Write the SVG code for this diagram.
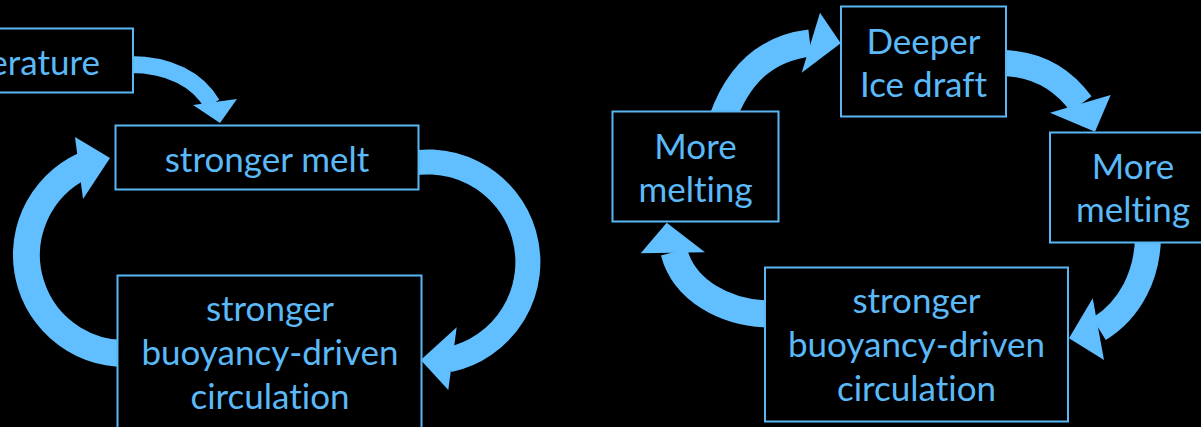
<svg xmlns="http://www.w3.org/2000/svg" width="1201" height="427" viewBox="0 0 1201 427">
<style>
.bg{fill:#000}
.box{fill:#000;stroke:#58B6F2;stroke-width:2}
.lbl{font-family:Lato,"Open Sans",sans-serif;font-size:35px;fill:#5BB9F7;text-anchor:middle;font-variant-ligatures:none;font-feature-settings:"liga" 0,"clig" 0}
.shaft{fill:none;stroke:#61BEFF}
.head{fill:#61BEFF}
</style>
<rect class="bg" x="0" y="0" width="1201" height="427"/>
<g id="connectors">
  <!-- temperature -> stronger melt -->
  <path class="shaft" stroke-width="17" d="M128,64.5 C170,64 198,80 212,104"/>
  <polygon class="head" points="193,105 237,99 220,123"/>
  <!-- stronger melt -> buoyancy (left) -->
  <path class="shaft" stroke-width="25" d="M393.8,168 A100,100 0 1 1 448.8,359.8"/>
  <polygon class="head" points="456.7,327.3 420.7,360 448.3,390"/>
  <!-- buoyancy -> stronger melt -->
  <path class="shaft" stroke-width="27" d="M142.1,352 A98.5,98.5 0 0 1 83.4,165.7"/>
  <polygon class="head" points="75,137 110,158 83,199"/>
  <!-- More melting (left) -> Deeper -->
  <path class="shaft" stroke-width="27" d="M722,120 C739,72 768,48 810,43"/>
  <polygon class="head" points="820,12.7 840.7,43.3 801.7,72.7"/>
  <!-- Deeper -> More melting (right) -->
  <path class="shaft" stroke-width="26" d="M1000,63 C1035,63 1062,78 1081,104"/>
  <polygon class="head" points="1050,112.7 1110.7,95 1095,131.7"/>
  <!-- More melting (right) -> buoyancy (right) -->
  <path class="shaft" stroke-width="26" d="M1148,235 C1148,275 1130,310 1099,329"/>
  <polygon class="head" points="1092.7,298.3 1069,338.3 1104,360"/>
  <!-- buoyancy (right) -> More melting (left) -->
  <path class="shaft" stroke-width="27" d="M772,314 C725,314 684,290 674,252"/>
  <polygon class="head" points="640.7,253.3 666.7,222.7 705,252.3"/>
</g>
<g id="node-temperature">
  <rect class="box" x="-10" y="28.5" width="143" height="64"/>
  <text class="lbl" x="100" y="74.5" style="text-anchor:end">erature</text>
</g>
<g id="node-stronger-melt">
  <rect class="box" x="115.5" y="125.5" width="303" height="64"/>
  <text class="lbl" x="267" y="172">stronger melt</text>
</g>
<g id="node-buoyancy-left">
  <rect class="box" x="117.5" y="275.5" width="304" height="160"/>
  <text class="lbl" x="270" y="321">stronger</text>
  <text class="lbl" x="270" y="365">buoyancy-driven</text>
  <text class="lbl" x="270" y="409">circulation</text>
</g>
<g id="node-more-melting-left">
  <rect class="box" x="612.5" y="111.5" width="166" height="110"/>
  <text class="lbl" x="695.5" y="159">More</text>
  <text class="lbl" x="695.5" y="202">melting</text>
</g>
<g id="node-deeper">
  <rect class="box" x="841" y="6.5" width="165" height="110"/>
  <text class="lbl" x="923.5" y="54">Deeper</text>
  <text class="lbl" x="923.5" y="97">Ice draft</text>
</g>
<g id="node-more-melting-right">
  <rect class="box" x="1050" y="132.5" width="166" height="110"/>
  <text class="lbl" x="1133" y="179">More</text>
  <text class="lbl" x="1133" y="222">melting</text>
</g>
<g id="node-buoyancy-right">
  <rect class="box" x="765" y="267.5" width="303" height="154"/>
  <text class="lbl" x="916.5" y="313">stronger</text>
  <text class="lbl" x="916.5" y="357">buoyancy-driven</text>
  <text class="lbl" x="916.5" y="401">circulation</text>
</g>
</svg>
